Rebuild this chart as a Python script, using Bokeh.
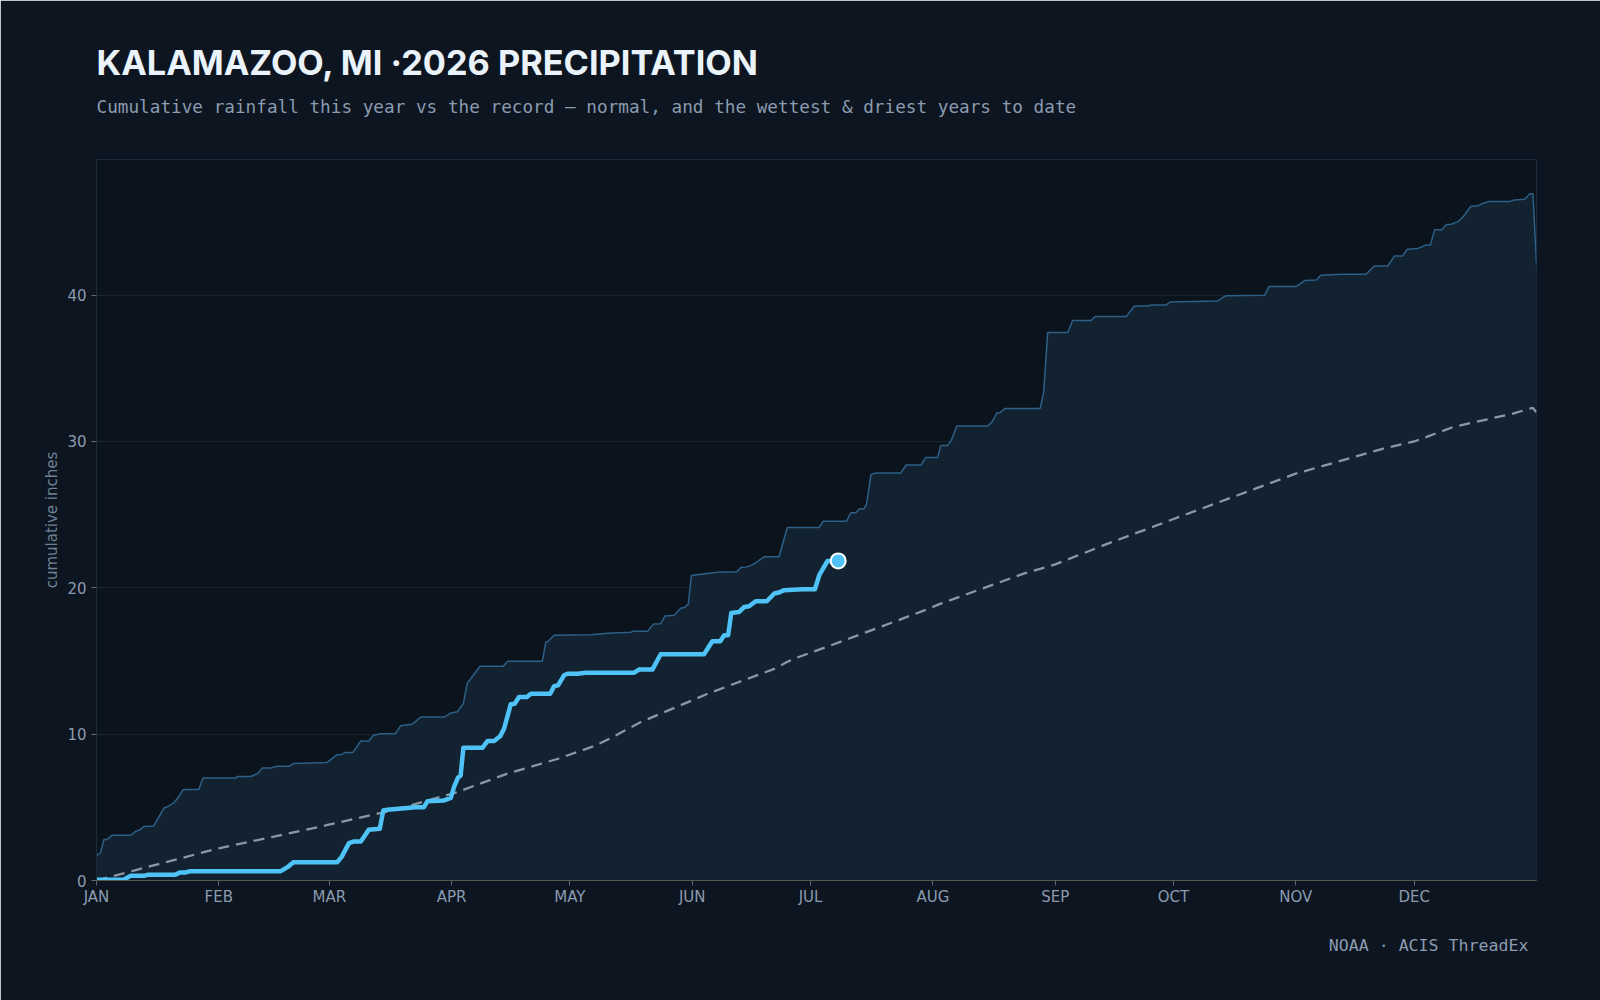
from bokeh.plotting import figure
from bokeh.models import Title, FixedTicker, Range1d
from bokeh.embed import file_html
from bokeh.resources import INLINE

# Month starts (day of year, 0 = Jan 1)
month_days = [0, 31, 59, 90, 120, 151, 181, 212, 243, 273, 304, 334]
month_labels = ["JAN", "FEB", "MAR", "APR", "MAY", "JUN",
                "JUL", "AUG", "SEP", "OCT", "NOV", "DEC"]
inch_ticks = [0, 10, 20, 30, 40]

# Wettest year to date: cumulative inches by day of year
wet_day = [0, 1, 1.9, 2.7, 4, 8.8, 9.9, 11, 12, 14.5, 17.1, 18.1, 19.6, 20.6, 22, 25.9,
           27, 35.3, 35.8, 39.1, 40.8, 42, 44.1, 45.8, 48.9, 50, 58.5, 61, 62, 63.1, 65,
           67, 69, 70.2, 72, 75.8, 77.1, 80, 82.2, 88.1, 89.8, 91.5, 93, 94, 94.9, 97.2,
           103.1, 104.2, 113, 113.9, 114.5, 116, 125.3, 129.5, 135.4, 136, 139.7, 141.2,
           143, 144.1, 146.4, 148.1, 149, 150, 150.8, 153.2, 157.4, 162.3, 163.3, 164.9,
           166.5, 169.2, 173, 175.1, 183.2, 184.2, 190.1, 191.2, 192.5, 193.3, 194.5,
           195.2, 196.3, 197.6, 203.9, 205.2, 209, 210.2, 213.2, 214, 215.7, 216.6, 218.1,
           225.9, 227.1, 228.2, 229, 230.3, 239.2, 240.1, 241.1, 246.2, 247.4, 252.1,
           253.1, 261, 263.1, 266.5, 267.4, 271.1, 272.2, 284.2, 286.3, 296.1, 297.2,
           304.1, 306.2, 309.2, 310.3, 315.5, 321.8, 323.9, 327.3, 329, 331.1, 332.2,
           334.9, 337, 338.1, 339.2, 341, 342.2, 343.4, 345.1, 346.3, 348.3, 350.2, 351.4,
           353.1, 358.2, 359.3, 362, 363.3, 364.1, 365]
wet_in = [1.71, 1.89, 2.8, 2.8, 3.1, 3.1, 3.37, 3.46, 3.69, 3.73, 4.95, 5.06, 5.31, 5.63,
          6.22, 6.22, 7.0, 7.0, 7.11, 7.11, 7.29, 7.68, 7.68, 7.81, 7.81, 8.0, 8.07, 8.6,
          8.6, 8.75, 8.75, 9.53, 9.53, 9.92, 10.03, 10.03, 10.58, 10.67, 11.17, 11.17,
          11.44, 11.53, 12.1, 13.5, 13.8, 14.64, 14.64, 14.98, 14.98, 16.3, 16.35, 16.76,
          16.8, 16.9, 16.96, 17.03, 17.03, 17.53, 17.55, 18.07, 18.12, 18.6, 18.65, 18.88,
          20.84, 20.93, 21.07, 21.1, 21.38, 21.43, 21.6, 22.12, 22.12, 24.12, 24.12,
          24.55, 24.55, 25.13, 25.13, 25.38, 25.38, 25.72, 27.74, 27.85, 27.85, 28.39,
          28.39, 28.91, 28.91, 29.73, 29.73, 30.04, 31.05, 31.05, 31.37, 31.96, 31.96,
          32.26, 32.26, 33.39, 37.44, 37.44, 38.26, 38.26, 38.53, 38.53, 39.26, 39.26,
          39.33, 39.33, 39.53, 39.6, 39.96, 39.99, 40.58, 40.58, 40.99, 41.04, 41.36,
          41.42, 41.42, 41.99, 41.99, 42.68, 42.68, 43.13, 43.18, 43.43, 43.43, 44.46,
          44.46, 44.82, 44.84, 45.02, 45.32, 46.05, 46.1, 46.28, 46.39, 46.39, 46.5,
          46.55, 46.92, 46.92, 42.06]

# Normal cumulative precipitation
normal_day = [0, 9.5, 14, 31, 45, 58, 75, 91, 104, 117, 126, 130, 138, 155, 172, 175,
              178, 189, 210, 214, 235, 243, 256, 273, 304, 326, 334, 344, 359, 364, 365]
normal_in = [0.0, 0.68, 1.0, 2.2, 3.0, 3.76, 4.79, 6.0, 7.29, 8.32, 9.17, 9.69, 10.83,
             12.77, 14.48, 14.93, 15.27, 16.35, 18.47, 18.92, 20.97, 21.6, 22.98, 24.7,
             27.8, 29.5, 30.0, 31.0, 31.9, 32.3, 32.0]

# 2026 so far
year_day = [0, 6.9, 8.6, 12, 12.9, 20, 21.1, 22.5, 23.8, 46.7, 48.4, 49.9, 61, 62.1, 64,
            65.3, 67, 69, 71.8, 72.7, 73.7, 78.8, 80.7, 83, 83.9, 88.1, 89.8, 90.6, 91.6,
            92.3, 93, 97.8, 99.1, 100.8, 102.3, 103.3, 105, 106, 107.1, 109.1, 110.1,
            115, 116, 117, 118.5, 119.4, 121.9, 124, 136.3, 137.5, 140.9, 143, 154, 156.1,
            158.1, 159.1, 160.1, 160.9, 162.9, 164.2, 165.4, 167.1, 169.9, 171.8, 173,
            174.3, 178.9, 182.1, 183.2, 185.3, 188]
year_in = [0.05, 0.05, 0.32, 0.32, 0.39, 0.39, 0.55, 0.55, 0.64, 0.64, 0.91, 1.25, 1.25,
           1.6, 2.55, 2.67, 2.67, 3.46, 3.53, 4.79, 4.83, 4.95, 5.0, 5.01, 5.42, 5.47,
           5.65, 6.38, 7.02, 7.18, 9.07, 9.07, 9.53, 9.53, 9.85, 10.37, 12.04, 12.08,
           12.54, 12.54, 12.76, 12.76, 13.28, 13.34, 14.02, 14.13, 14.13, 14.2, 14.2,
           14.41, 14.41, 15.46, 15.46, 16.35, 16.35, 16.76, 16.76, 18.28, 18.35, 18.69,
           18.74, 19.08, 19.08, 19.61, 19.68, 19.84, 19.9, 19.9, 20.86, 21.84, 21.84]

BG = "#0c1520"
TEXT_MUTED = "#8b9bb0"

p = figure(width=1600, height=1000, output_backend="svg", toolbar_location=None,
           title=None, x_range=Range1d(0, 365), y_range=Range1d(0, max(wet_in) * 1.05),
           min_border_left=96, min_border_right=64, min_border_top=159,
           min_border_bottom=120)
p.background_fill_color = "#0b131c"
p.border_fill_color = BG
p.outline_line_color = "#1b2c3c"
p.outline_line_width = 1.2

# Titles (first added sits nearest the plot)
p.add_layout(Title(text="Cumulative rainfall this year vs the record \u2014 normal, and the wettest & driest years to date",
                   text_font="DejaVu Sans Mono", text_font_size="17.7px",
                   text_font_style="normal", text_color=TEXT_MUTED,
                   align="left", standoff=86), "above")
p.add_layout(Title(text="KALAMAZOO, MI \u00b72026 PRECIPITATION",
                   text_font="Inter", text_font_size="34.3px", text_font_style="bold",
                   text_color="#eaf2fa", align="left", standoff=-62), "above")
p.add_layout(Title(text="NOAA \u00b7 ACIS ThreadEx", text_font="DejaVu Sans Mono",
                   text_font_size="16.6px", text_font_style="normal",
                   text_color=TEXT_MUTED, align="right", standoff=50, offset=8), "below")

# Record band and lines
p.varea(x=wet_day, y1=0, y2=wet_in, fill_color="#122230")
p.line(wet_day, wet_in, line_color="#2d5f87", line_width=1.5)
p.line(normal_day, normal_in, line_color="#8a98a5", line_width=2.3, line_dash="11 7")
p.line(year_day, year_in, line_color="#4fc3f7", line_width=4.5, line_join="round")
p.scatter([year_day[-1]], [year_in[-1]], size=15, fill_color="#4fc3f7",
          line_color="white", line_width=2)

# Axes
p.xaxis.ticker = FixedTicker(ticks=month_days)
p.xaxis.major_label_overrides = {d: m for d, m in zip(month_days, month_labels)}
p.yaxis.ticker = FixedTicker(ticks=inch_ticks)
p.xaxis.minor_tick_line_color = None
p.yaxis.minor_tick_line_color = None
for ax in (p.xaxis, p.yaxis):
    ax.major_label_text_font = "DejaVu Sans"
    ax.major_label_text_font_size = "15px"
    ax.major_label_text_color = TEXT_MUTED
    ax.major_tick_line_color = "#5c6875"
    ax.major_tick_out = 5
    ax.major_tick_in = 0
p.xaxis.major_label_standoff = 2
p.yaxis.major_label_standoff = 5
p.xaxis.axis_line_color = "#57574d"
p.yaxis.axis_line_color = "#1b2c3c"
p.yaxis.axis_label = "cumulative inches"
p.yaxis.axis_label_text_font = "DejaVu Sans"
p.yaxis.axis_label_text_font_size = "15px"
p.yaxis.axis_label_text_font_style = "normal"
p.yaxis.axis_label_text_color = "#6f8194"
p.yaxis.axis_label_standoff = 3

p.xgrid.grid_line_color = None
p.ygrid.grid_line_color = "#17232e"

open("out.html", "w").write(file_html(p, INLINE))
